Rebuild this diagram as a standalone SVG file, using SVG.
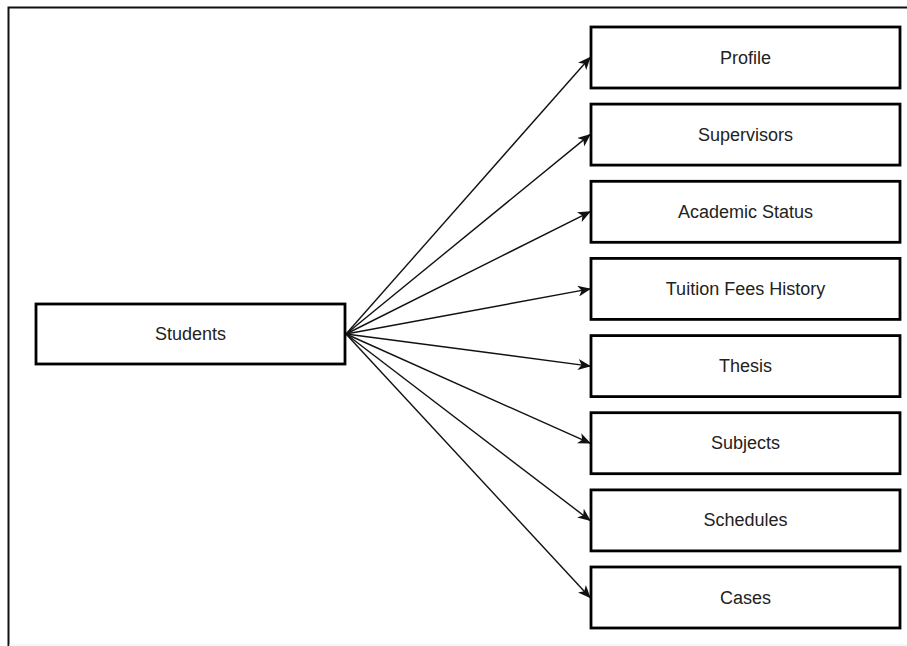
<svg xmlns="http://www.w3.org/2000/svg" width="907" height="646" viewBox="0 0 907 646">
<style>
.box{fill:#fff;stroke:#000;stroke-width:2.8}
.lbl{font-family:"Liberation Sans",Arial,sans-serif;font-size:18px;fill:#222;text-anchor:middle;dominant-baseline:central}
.edge{stroke:#111;stroke-width:1.4;fill:none;marker-end:url(#arr)}
</style>
<defs>
<marker id="arr" viewBox="0 0 13 11" refX="12" refY="5.5" markerWidth="13" markerHeight="11" markerUnits="userSpaceOnUse" orient="auto">
<path d="M0,0 L13,5.5 L0,11 L3.5,5.5 Z" fill="#111"/>
</marker>
</defs>
<rect x="0" y="0" width="907" height="646" fill="#fff"/>
<g id="frame">
<path d="M8.5,646 V7.5 H907" fill="none" stroke="#111" stroke-width="2"/>
<line x1="9" y1="645" x2="907" y2="645" stroke="#eee" stroke-width="1"/>
</g>
<g id="connectors">
<line class="edge" x1="346" y1="334" x2="590" y2="57.5"/>
<line class="edge" x1="346" y1="334" x2="590" y2="134.6"/>
<line class="edge" x1="346" y1="334" x2="590" y2="211.8"/>
<line class="edge" x1="346" y1="334" x2="590" y2="288.9"/>
<line class="edge" x1="346" y1="334" x2="590" y2="366.1"/>
<line class="edge" x1="346" y1="334" x2="590" y2="443.2"/>
<line class="edge" x1="346" y1="334" x2="590" y2="520.4"/>
<line class="edge" x1="346" y1="334" x2="590" y2="597.5"/>
</g>
<g id="students"><rect class="box" x="36" y="304" width="309" height="60"/><text class="lbl" x="190.5" y="334">Students</text></g>
<g id="profile"><rect class="box" x="591" y="27" width="309" height="61"/><text class="lbl" x="745.5" y="57.5">Profile</text></g>
<g id="supervisors"><rect class="box" x="591" y="104.1" width="309" height="61"/><text class="lbl" x="745.5" y="134.6">Supervisors</text></g>
<g id="academic-status"><rect class="box" x="591" y="181.3" width="309" height="61"/><text class="lbl" x="745.5" y="211.8">Academic Status</text></g>
<g id="tuition-fees-history"><rect class="box" x="591" y="258.4" width="309" height="61"/><text class="lbl" x="745.5" y="288.9">Tuition Fees History</text></g>
<g id="thesis"><rect class="box" x="591" y="335.6" width="309" height="61"/><text class="lbl" x="745.5" y="366.1">Thesis</text></g>
<g id="subjects"><rect class="box" x="591" y="412.7" width="309" height="61"/><text class="lbl" x="745.5" y="443.2">Subjects</text></g>
<g id="schedules"><rect class="box" x="591" y="489.9" width="309" height="61"/><text class="lbl" x="745.5" y="520.4">Schedules</text></g>
<g id="cases"><rect class="box" x="591" y="567" width="309" height="61"/><text class="lbl" x="745.5" y="597.5">Cases</text></g>
</svg>
